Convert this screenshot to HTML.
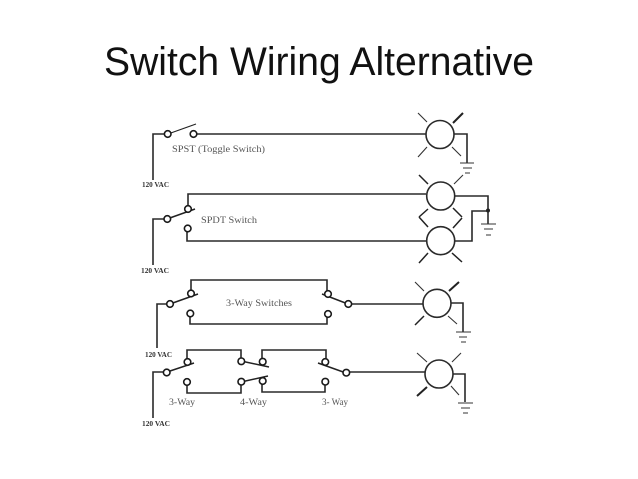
<!DOCTYPE html>
<html>
<head>
<meta charset="utf-8">
<style>
html,body{margin:0;padding:0;background:#fff;width:638px;height:479px;overflow:hidden}
svg{display:block}
.w{fill:none;stroke:#2a2a2a;stroke-width:1.6}
.b{fill:none;stroke:#222;stroke-width:1.1}
.c{fill:#fff;stroke:#1a1a1a;stroke-width:1.6}
.l{fill:#fff;stroke:#2a2a2a;stroke-width:1.6}
.r{stroke:#333;stroke-width:1.1;fill:none}
.t{stroke:#222;stroke-width:2;fill:none}
.m{stroke:#222;stroke-width:1.5;fill:none}
.g{stroke:#333;stroke-width:1.1;fill:none}
.lab{font-family:"Liberation Serif",serif;font-size:9.5px;fill:#555}
.v{font-family:"Liberation Serif",serif;font-size:7.5px;font-weight:bold;fill:#333}
</style>
</head>
<body>
<svg width="638" height="479" viewBox="0 0 638 479" xmlns="http://www.w3.org/2000/svg">
<text x="104" y="75" font-family="Liberation Sans, sans-serif" font-size="40" fill="#111" textLength="430" lengthAdjust="spacingAndGlyphs">Switch Wiring Alternative</text>

<!-- SPST -->
<path class="w" d="M153 180V134H165M197 134H426"/>
<path class="b" d="M168 134L196 124"/>
<circle class="c" cx="167.7" cy="134" r="3.3"/>
<circle class="c" cx="193.5" cy="134" r="3.3"/>
<circle class="l" cx="440" cy="134.5" r="14"/>
<path class="r" d="M418 113L427 122M418 157L427 147M452 147L461 156"/>
<path class="t" d="M453 123L463 113"/>
<path class="w" d="M454 134H467V163"/>
<path class="g" d="M460 163H474M463 168H472M465 173H470"/>
<text class="lab" x="172" y="152" textLength="93" lengthAdjust="spacingAndGlyphs">SPST (Toggle Switch)</text>
<text class="v" x="142" y="187" textLength="27" lengthAdjust="spacingAndGlyphs">120 VAC</text>

<!-- SPDT -->
<path class="w" d="M153 265V219H165M188 205V194H426M187 232V241H426"/>
<path class="m" d="M167 219L195 209"/>
<circle class="c" cx="167.3" cy="219" r="3.3"/>
<circle class="c" cx="188" cy="209" r="3.3"/>
<circle class="c" cx="187.7" cy="228.5" r="3.3"/>
<circle class="l" cx="440.7" cy="196" r="14"/>
<circle class="l" cx="440.7" cy="240.7" r="14"/>
<path class="r" d="M454 184L463 175"/>
<path class="m" d="M419 175L428 184M419 217L428 209M453 208L462 217M419 217L428 227M453 228L462 218M419 263L428 253M452 253L462 262"/>
<path class="w" d="M454 196H488V224M454 241H472V211H488"/>
<circle cx="488" cy="210.5" r="2" fill="#222"/>
<path class="g" d="M481 224H496M484 229H493M486 235H491"/>
<text class="lab" x="201" y="223" textLength="56" lengthAdjust="spacingAndGlyphs">SPDT Switch</text>
<text class="v" x="141" y="273" textLength="28" lengthAdjust="spacingAndGlyphs">120 VAC</text>

<!-- 3-way -->
<path class="w" d="M157 348V304H168M191 290V280H327V291M190 316V324H327V317M351 304H423"/>
<path class="m" d="M170 304L198 294M322 294L348 304"/>
<circle class="c" cx="170" cy="304" r="3.3"/>
<circle class="c" cx="191" cy="293.5" r="3.3"/>
<circle class="c" cx="190.3" cy="313.5" r="3.3"/>
<circle class="c" cx="328" cy="294" r="3.3"/>
<circle class="c" cx="328" cy="314" r="3.3"/>
<circle class="c" cx="348.3" cy="304" r="3.3"/>
<circle class="l" cx="437" cy="303.3" r="14"/>
<path class="r" d="M415 282L424 291M448 316L457 324"/>
<path class="m" d="M415 325L424 316"/>
<path class="t" d="M449 291L459 282"/>
<path class="w" d="M451 303H463V332"/>
<path class="g" d="M456 332H471M459 337H467M461 342H466"/>
<text class="lab" x="226" y="306" textLength="66" lengthAdjust="spacingAndGlyphs">3-Way Switches</text>
<text class="v" x="145" y="357" textLength="27" lengthAdjust="spacingAndGlyphs">120 VAC</text>

<!-- 3-way / 4-way / 3-way -->
<path class="w" d="M153 418V372H165M187 359V350H241V358M187 385V393H241V385M262 358V350H326V358M262 384V392H325V385M350 372H425"/>
<path class="m" d="M167 372L194 363M241 361L269 367M241 382L268 376M318 363L346 373"/>
<circle class="c" cx="166.7" cy="372.5" r="3.3"/>
<circle class="c" cx="187.5" cy="362" r="3.3"/>
<circle class="c" cx="187" cy="382" r="3.3"/>
<circle class="c" cx="241.3" cy="361.3" r="3.3"/>
<circle class="c" cx="241.3" cy="381.7" r="3.3"/>
<circle class="c" cx="262.7" cy="361.7" r="3.3"/>
<circle class="c" cx="262.7" cy="381" r="3.3"/>
<circle class="c" cx="325.3" cy="362" r="3.3"/>
<circle class="c" cx="325.3" cy="381.7" r="3.3"/>
<circle class="c" cx="346.3" cy="372.7" r="3.3"/>
<circle class="l" cx="439" cy="374" r="14"/>
<path class="r" d="M417 353L427 362M452 362L461 353M451 386L459 395"/>
<path class="t" d="M417 396L427 387"/>
<path class="w" d="M453 374H465V402"/>
<path class="g" d="M458 403H473M461 408H470M463 413H468"/>
<text class="lab" x="169" y="405" textLength="26" lengthAdjust="spacingAndGlyphs">3-Way</text>
<text class="lab" x="240" y="405" textLength="27" lengthAdjust="spacingAndGlyphs">4-Way</text>
<text class="lab" x="322" y="405" textLength="26" lengthAdjust="spacingAndGlyphs">3- Way</text>
<text class="v" x="142" y="426" textLength="28" lengthAdjust="spacingAndGlyphs">120 VAC</text>
</svg>
</body>
</html>
